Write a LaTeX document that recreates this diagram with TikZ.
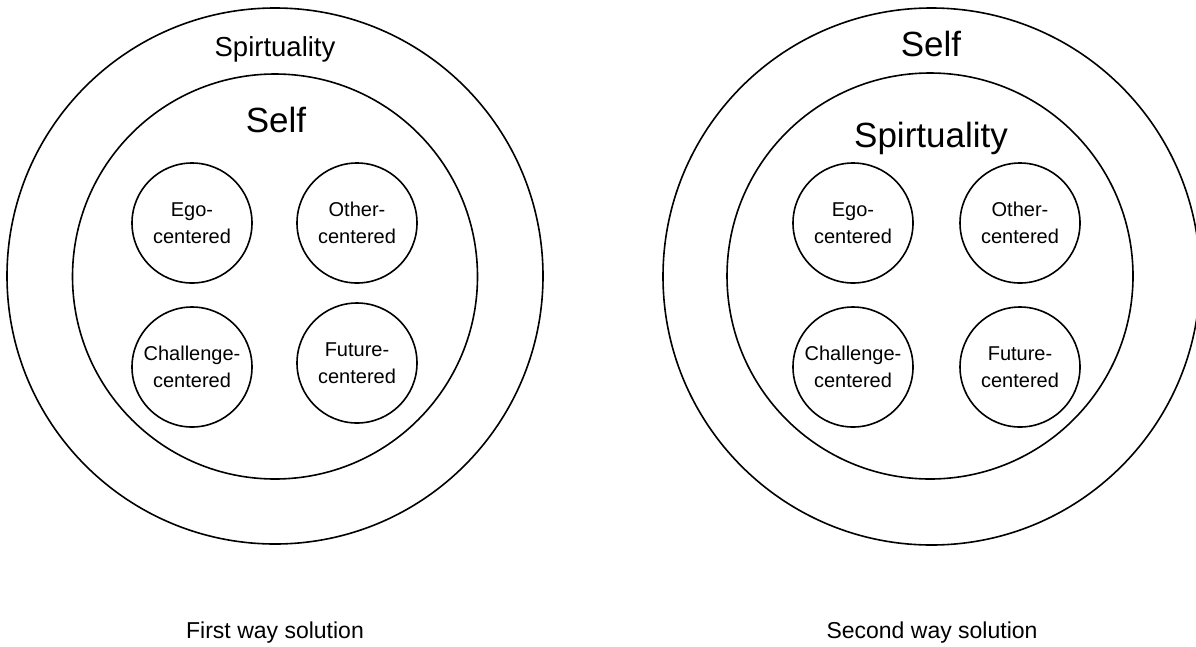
\documentclass[tikz,border=0pt]{standalone}
\usepackage{fontspec}
\setmainfont{Liberation Sans}
\usetikzlibrary{positioning}
\def\ringwidth{1.6pt}
\def\smallsize{120pt}

\begin{document}
\begin{tikzpicture}[x=1pt, y=-1pt,
    ring/.style={circle, draw, line width=\ringwidth, inner sep=0pt},
    petal/.style={circle, draw, line width=\ringwidth, inner sep=0pt, minimum size=\smallsize, align=center, font=\fontsize{20}{27}\selectfont},
    biglabel/.style={anchor=base, font=\fontsize{35}{40}\selectfont},
    toplabel/.style={anchor=base, font=\fontsize{27.5}{32}\selectfont},
    caption/.style={font=\fontsize{23}{28}\selectfont}]
        \useasboundingbox (0,0) rectangle (1196,646);

        % first way: spirtuality round the self
        \node[ring, minimum size=536pt] (outerA) at (275,276) {};
        \node[ring, minimum size=405pt] (innerA) at (275,276.5) {};
        \node[toplabel] (spirA) at (275,56) {Spirtuality};
        \node[biglabel] (selfA) at (276,132) {Self};
        \node[petal] (egoA) at (192,223) {Ego-\\centered};
        \node[petal] (otherA) at (357,223) {Other-\\centered};
        \node[petal] (challA) at (192,367) {Challenge-\\centered};
        \node[petal] (futA) at (357,363) {Future-\\centered};

        % second way: self round the spirtuality
        \node[ring, minimum size=537pt] (outerB) at (931.5,276.5) {};
        \node[ring, minimum size=406pt] (innerB) at (930,276) {};
        \node[biglabel] (selfB) at (931,56) {Self};
        \node[biglabel] (spirB) at (931,147) {Spirtuality};
        \node[petal] (egoB) at (853,223) {Ego-\\centered};
        \node[petal] (otherB) at (1020,223) {Other-\\centered};
        \node[petal] (challB) at (853,367) {Challenge-\\centered};
        \node[petal] (futB) at (1020,367) {Future-\\centered};

        % captions
        \node[caption] (capA) at (275,633) {First way solution};
        \node[caption] (capB) at (932,633) {Second way solution};
    \end{tikzpicture}
\end{document}
